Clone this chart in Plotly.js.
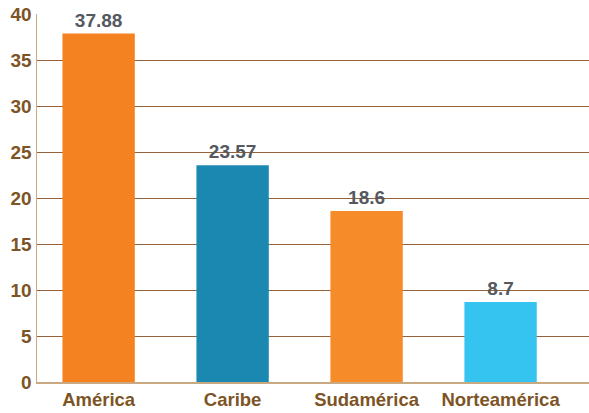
<!DOCTYPE html>
<html>
<head>
<meta charset="utf-8">
<script src="https://cdn.plot.ly/plotly-3.0.1.min.js"></script>
<style>
  html, body { margin: 0; padding: 0; background: #ffffff; }
  #chart { width: 589px; height: 413px; }
</style>
</head>
<body>
<div id="chart"></div>
<script>
// Regions and their values
const regions = ['América', 'Caribe', 'Sudamérica', 'Norteamérica'];
const values = [37.88, 23.57, 18.6, 8.7];
const valueLabels = ['37.88', '23.57', '18.6', '8.7'];
const barColors = ['#F58220', '#1A88B0', '#F68B2A', '#35C3F0'];
const yTicks = [0, 5, 10, 15, 20, 25, 30, 35, 40];

const labelFont = '"Liberation Sans", Arial, sans-serif';
const brown = '#7D5426';

const trace = {
  type: 'bar',
  x: regions,
  y: values,
  width: 0.54,
  marker: { color: barColors, line: { width: 0 } },
  text: valueLabels,
  textposition: 'outside',
  cliponaxis: false,
  textfont: { family: labelFont, size: 19, color: '#55595F', weight: 'bold' },
  hoverinfo: 'skip'
};

const layout = {
  width: 589,
  height: 413,
  margin: { l: 37, r: 0, t: 14, b: 31 },
  paper_bgcolor: '#ffffff',
  plot_bgcolor: '#ffffff',
  showlegend: false,
  bargap: 0.46,
  xaxis: {
    type: 'category',
    range: [-0.46, 3.66],
    showgrid: false,
    showline: true,
    linecolor: '#C9A982',
    linewidth: 1.5,
    ticks: '',
    ticklabelstandoff: 0,
    tickfont: { family: labelFont, size: 18.5, color: brown, weight: 'bold' },
    fixedrange: true
  },
  yaxis: {
    range: [0, 40],
    tickvals: yTicks,
    ticktext: yTicks.map(String),
    showgrid: true,
    gridcolor: '#93623A',
    gridwidth: 1,
    zeroline: false,
    showline: true,
    linecolor: '#C9A982',
    linewidth: 1.5,
    ticks: '',
    ticklabelstandoff: 0,
    tickfont: { family: labelFont, size: 19, color: brown, weight: 'bold' },
    fixedrange: true
  }
};

Plotly.newPlot('chart', [trace], layout, { displayModeBar: false, staticPlot: true });
</script>
</body>
</html>
